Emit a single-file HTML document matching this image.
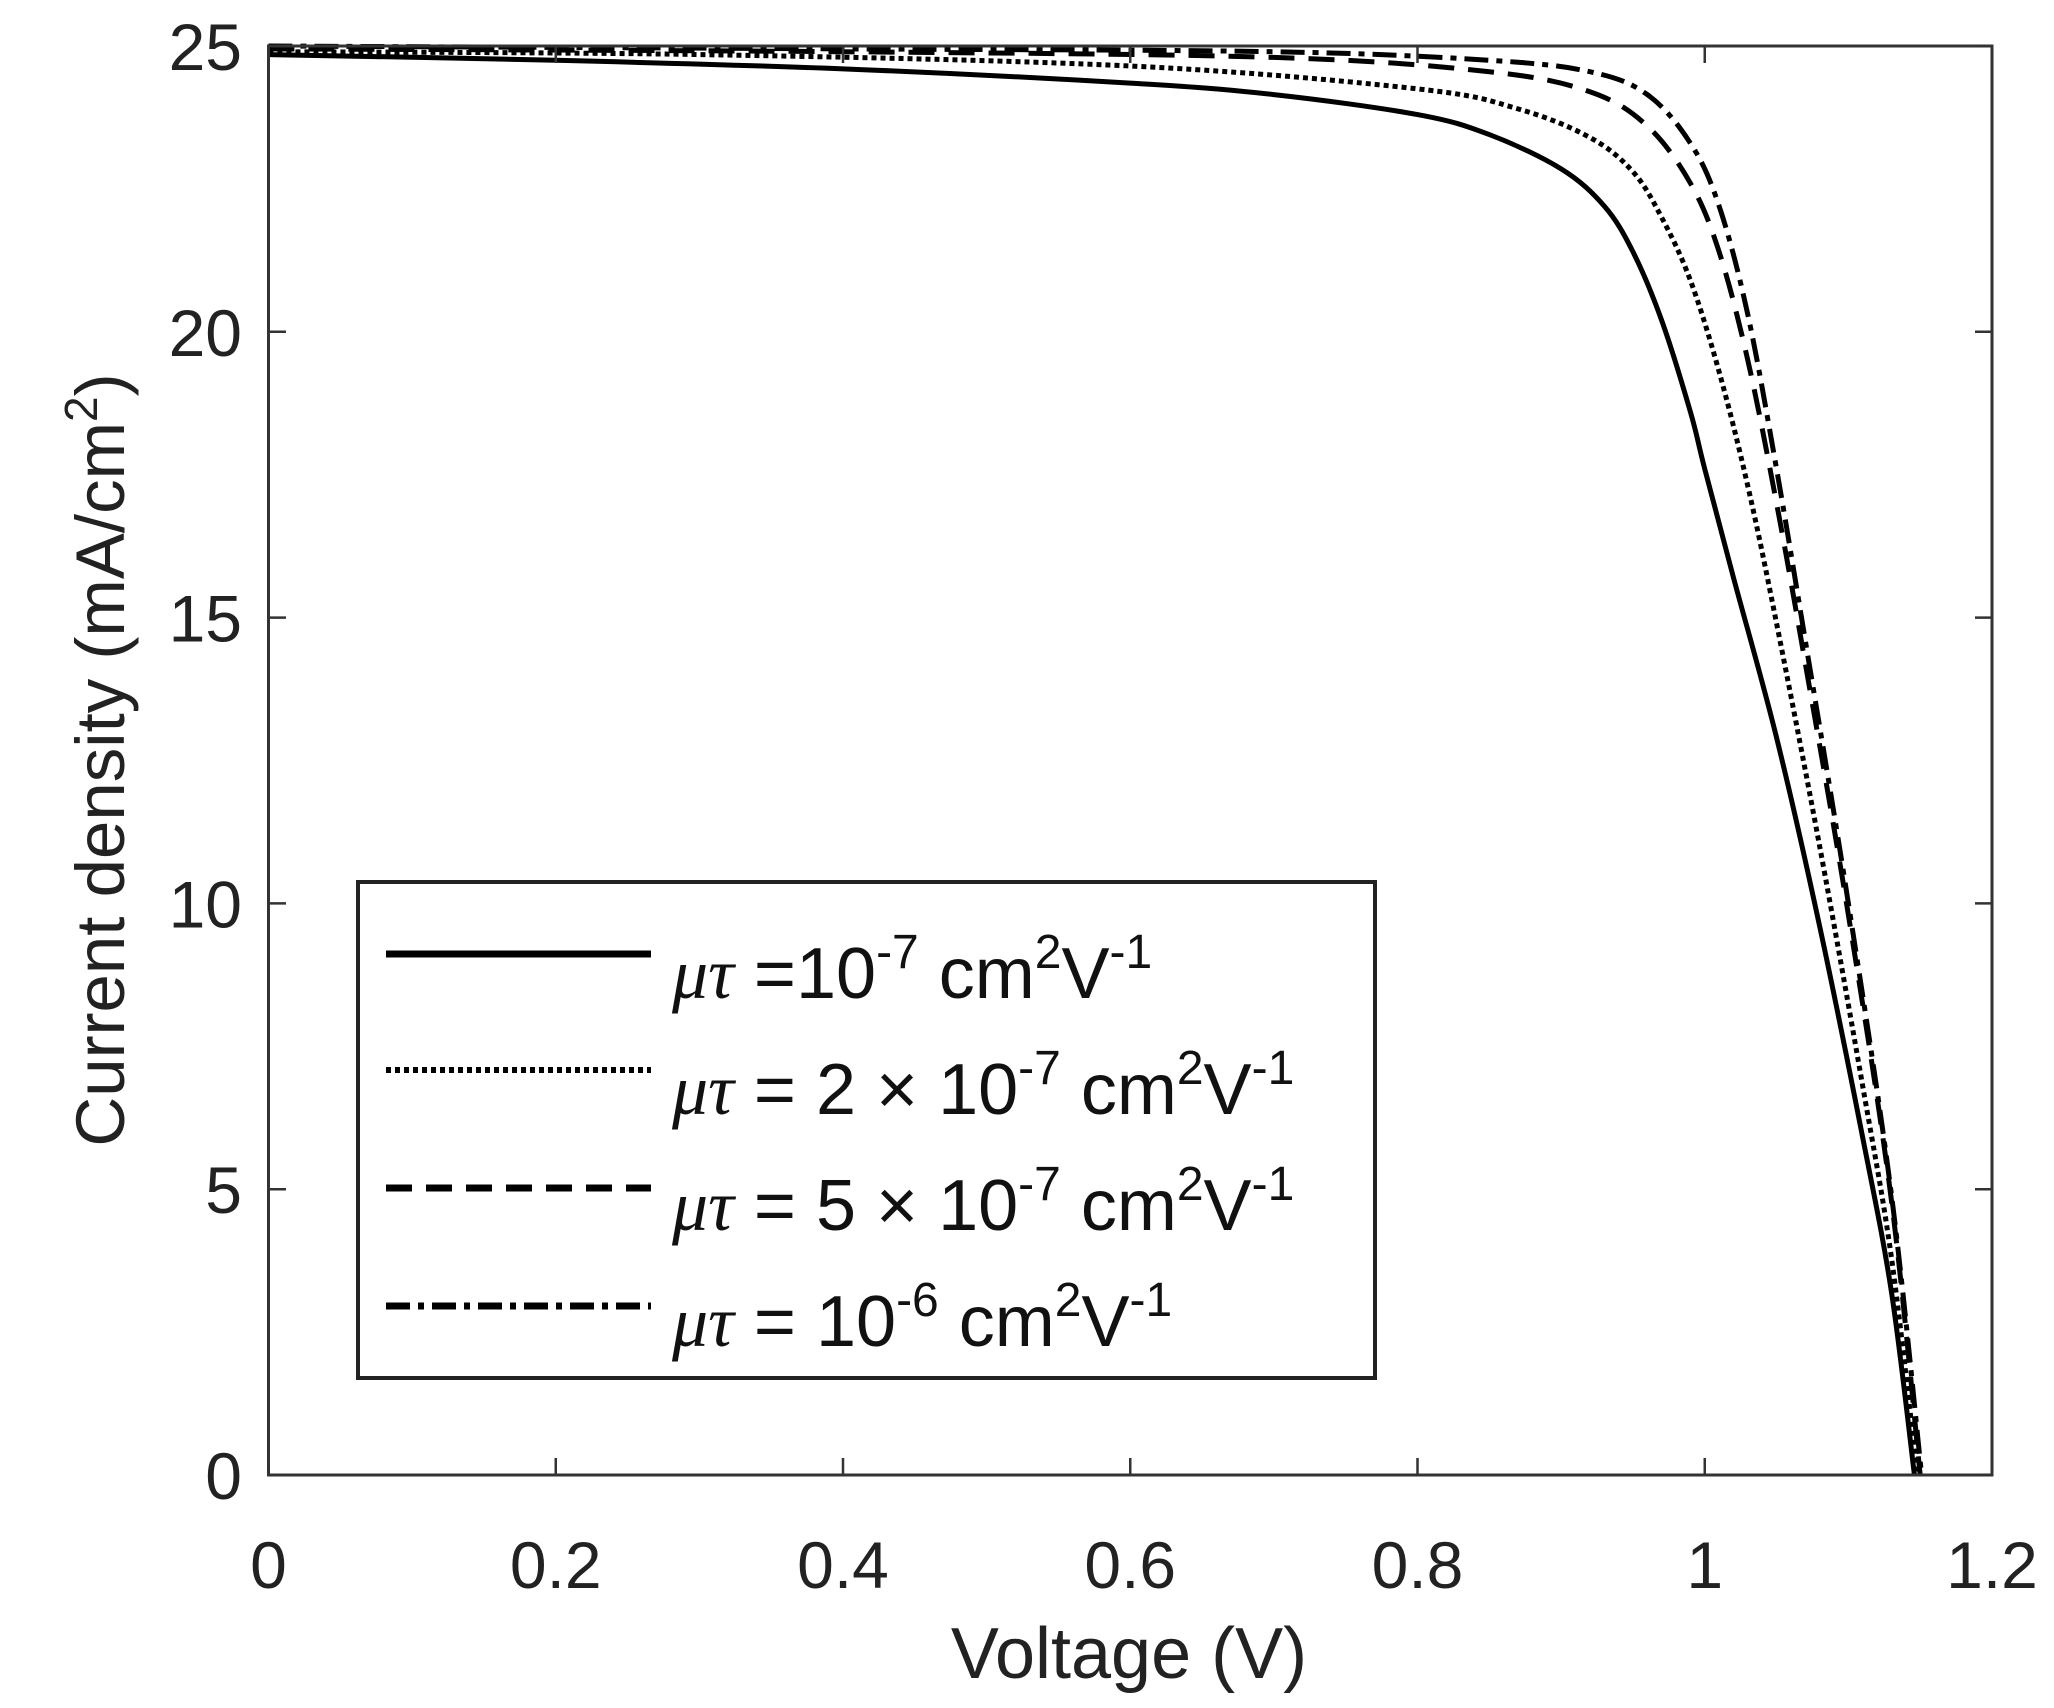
<!DOCTYPE html>
<html><head><meta charset="utf-8"><style>
html,body{margin:0;padding:0;background:#fff;}
svg{display:block;font-family:"Liberation Sans",Arial,sans-serif;}
</style></head><body>
<svg id="s" width="2054" height="1708" viewBox="0 0 2054 1708" xmlns="http://www.w3.org/2000/svg">
<rect x="0" y="0" width="2054" height="1708" fill="#fff"/>
<g id="curves" fill="none" stroke="#000" stroke-width="5"></g>
<rect x="268.5" y="46" width="1723.5" height="1429" fill="none" stroke="#333" stroke-width="3"/>
<g id="ticks" stroke="#333" stroke-width="2.5"></g>
<g id="labels" font-size="66" fill="#222"></g>
<text x="1129" y="1678" font-size="72" text-anchor="middle" fill="#222">Voltage (V)</text>
<text transform="translate(124,760) rotate(-90)" font-size="69" text-anchor="middle" fill="#222">Current density (mA/cm<tspan dy="-27" font-size="46">2</tspan><tspan dy="27">)</tspan></text>
<rect x="358" y="882" width="1017" height="496" fill="#fff" stroke="#222" stroke-width="4"/>
<g stroke="#000" stroke-width="7">
<line x1="386" y1="954" x2="651" y2="954"/>
<line x1="386" y1="1070" x2="651" y2="1070" stroke-dasharray="5 4" stroke-width="6"/>
<line x1="386" y1="1188" x2="651" y2="1188" stroke-dasharray="26 14"/>
<line x1="386" y1="1306" x2="651" y2="1306" stroke-dasharray="24 8 6 8"/>
</g>
<g font-size="72" fill="#111">
<text x="672" y="998"><tspan font-family="Liberation Serif,serif" font-style="italic">μτ</tspan> =10<tspan dy="-30" font-size="48">-7</tspan><tspan dy="30"> cm</tspan><tspan dy="-30" font-size="48">2</tspan><tspan dy="30">V</tspan><tspan dy="-30" font-size="48">-1</tspan></text>
<text x="672" y="1114"><tspan font-family="Liberation Serif,serif" font-style="italic">μτ</tspan> = 2 × 10<tspan dy="-30" font-size="48">-7</tspan><tspan dy="30"> cm</tspan><tspan dy="-30" font-size="48">2</tspan><tspan dy="30">V</tspan><tspan dy="-30" font-size="48">-1</tspan></text>
<text x="672" y="1230"><tspan font-family="Liberation Serif,serif" font-style="italic">μτ</tspan> = 5 × 10<tspan dy="-30" font-size="48">-7</tspan><tspan dy="30"> cm</tspan><tspan dy="-30" font-size="48">2</tspan><tspan dy="30">V</tspan><tspan dy="-30" font-size="48">-1</tspan></text>
<text x="672" y="1346"><tspan font-family="Liberation Serif,serif" font-style="italic">μτ</tspan> = 10<tspan dy="-30" font-size="48">-6</tspan><tspan dy="30"> cm</tspan><tspan dy="-30" font-size="48">2</tspan><tspan dy="30">V</tspan><tspan dy="-30" font-size="48">-1</tspan></text>
</g>
</svg>
<script>
var NS="http://www.w3.org/2000/svg";
function X(v){return 268.5+v/1.2*1723.5;}
function Y(j){return 1475-j/25*1429;}
function el(p,n,a,t){var e=document.createElementNS(NS,n);for(var k in a)e.setAttribute(k,a[k]);if(t!==undefined)e.textContent=t;p.appendChild(e);return e;}
var tk=document.getElementById('ticks'),lb=document.getElementById('labels');
[0,0.2,0.4,0.6,0.8,1,1.2].forEach(function(v){var x=X(v);
 el(tk,'line',{x1:x,y1:1475,x2:x,y2:1458});el(tk,'line',{x1:x,y1:46,x2:x,y2:63});
 el(lb,'text',{x:x,y:1588,'text-anchor':'middle'},String(v));});
[0,5,10,15,20,25].forEach(function(j){var y=Y(j);
 el(tk,'line',{x1:268.5,y1:y,x2:286,y2:y});el(tk,'line',{x1:1992,y1:y,x2:1975,y2:y});
 el(lb,'text',{x:242,y:y+24,'text-anchor':'end'},String(j));});
var data=[
 [[0,24.85],[0.2,24.75],[0.4,24.6],[0.6,24.35],[0.7,24.15],[0.8,23.8],[0.85,23.45],[0.9,22.85],[0.93,22.2],[0.95,21.4],[0.97,20.2],[0.99,18.6],[1.0,17.6],[1.02,15.7],[1.05,12.9],[1.08,9.6],[1.11,5.9],[1.13,3.2],[1.146,0]],
 [[0,24.9],[0.3,24.85],[0.6,24.65],[0.8,24.25],[0.87,23.9],[0.92,23.4],[0.95,22.8],[0.97,22.0],[0.99,20.9],[1.01,19.3],[1.03,17.3],[1.05,14.9],[1.08,11.0],[1.11,6.8],[1.13,3.8],[1.148,0]],
 [[0,24.95],[0.4,24.9],[0.7,24.8],[0.85,24.55],[0.92,24.2],[0.96,23.6],[0.99,22.6],[1.01,21.4],[1.03,19.5],[1.05,17.0],[1.07,14.2],[1.1,9.8],[1.13,4.8],[1.15,0]],
 [[0,25],[0.4,24.95],[0.7,24.9],[0.85,24.75],[0.92,24.55],[0.96,24.15],[0.99,23.3],[1.01,22.2],[1.03,20.3],[1.05,17.6],[1.07,14.6],[1.1,10.0],[1.13,4.9],[1.151,0]]
];
var dash=[null,"5 4","26 14","24 8 6 8"];
var g=document.getElementById('curves');
data.forEach(function(pts,i){
 var P=pts.map(function(p){return [X(p[0]),Y(p[1])];});
 var d="M"+P[0][0]+","+P[0][1];
 for(var k=0;k<P.length-1;k++){
  var p0=P[k-1]||P[k],p1=P[k],p2=P[k+1],p3=P[k+2]||P[k+1];
  var c1=[p1[0]+(p2[0]-p0[0])/6,p1[1]+(p2[1]-p0[1])/6],c2=[p2[0]-(p3[0]-p1[0])/6,p2[1]-(p3[1]-p1[1])/6];
  d+=" C"+c1[0]+","+c1[1]+" "+c2[0]+","+c2[1]+" "+p2[0]+","+p2[1];
 }
 var a={d:d};if(dash[i])a['stroke-dasharray']=dash[i];
 el(g,'path',a);
});
</script>
</body></html>
